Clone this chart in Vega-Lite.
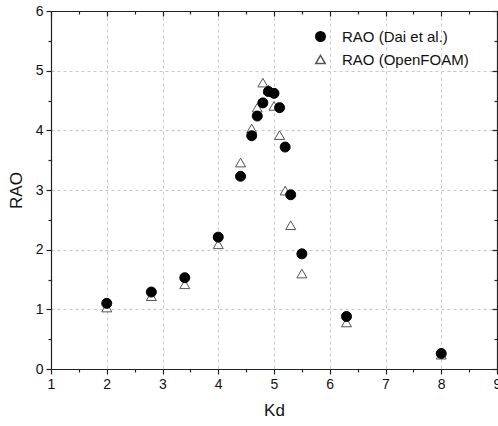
{
  "$schema": "https://vega.github.io/schema/vega-lite/v6.json",
  "width": 446,
  "height": 358,
  "autosize": {"type": "none"},
  "padding": {"left": 51, "top": 11, "right": 1, "bottom": 57},
  "background": "white",
  "config": {
    "view": {"stroke": null},
    "font": "Liberation Sans",
    "axis": {
      "domainColor": "#222",
      "domainWidth": 1.2,
      "tickColor": "#222",
      "tickWidth": 1.2,
      "labelFont": "Liberation Sans",
      "labelFontSize": 14,
      "labelColor": "#111",
      "titleFont": "Liberation Sans",
      "titleFontSize": 17,
      "titleFontWeight": "normal",
      "titleColor": "#111",
      "gridColor": "#c8c8c8",
      "gridDash": [3, 3],
      "gridWidth": 1
    }
  },
  "data": {
    "values": [
      {"Kd": 2.0, "RAO": 1.03, "series": "RAO (OpenFOAM)"},
      {"Kd": 2.8, "RAO": 1.22, "series": "RAO (OpenFOAM)"},
      {"Kd": 3.4, "RAO": 1.42, "series": "RAO (OpenFOAM)"},
      {"Kd": 4.0, "RAO": 2.09, "series": "RAO (OpenFOAM)"},
      {"Kd": 4.4, "RAO": 3.46, "series": "RAO (OpenFOAM)"},
      {"Kd": 4.6, "RAO": 4.03, "series": "RAO (OpenFOAM)"},
      {"Kd": 4.7, "RAO": 4.38, "series": "RAO (OpenFOAM)"},
      {"Kd": 4.8, "RAO": 4.80, "series": "RAO (OpenFOAM)"},
      {"Kd": 4.9, "RAO": 4.68, "series": "RAO (OpenFOAM)"},
      {"Kd": 5.0, "RAO": 4.41, "series": "RAO (OpenFOAM)"},
      {"Kd": 5.1, "RAO": 3.92, "series": "RAO (OpenFOAM)"},
      {"Kd": 5.2, "RAO": 2.99, "series": "RAO (OpenFOAM)"},
      {"Kd": 5.3, "RAO": 2.41, "series": "RAO (OpenFOAM)"},
      {"Kd": 5.5, "RAO": 1.60, "series": "RAO (OpenFOAM)"},
      {"Kd": 6.3, "RAO": 0.78, "series": "RAO (OpenFOAM)"},
      {"Kd": 8.0, "RAO": 0.24, "series": "RAO (OpenFOAM)"},
      {"Kd": 2.0, "RAO": 1.10, "series": "RAO (Dai et al.)"},
      {"Kd": 2.8, "RAO": 1.29, "series": "RAO (Dai et al.)"},
      {"Kd": 3.4, "RAO": 1.53, "series": "RAO (Dai et al.)"},
      {"Kd": 4.0, "RAO": 2.21, "series": "RAO (Dai et al.)"},
      {"Kd": 4.4, "RAO": 3.23, "series": "RAO (Dai et al.)"},
      {"Kd": 4.6, "RAO": 3.91, "series": "RAO (Dai et al.)"},
      {"Kd": 4.7, "RAO": 4.24, "series": "RAO (Dai et al.)"},
      {"Kd": 4.8, "RAO": 4.46, "series": "RAO (Dai et al.)"},
      {"Kd": 4.9, "RAO": 4.65, "series": "RAO (Dai et al.)"},
      {"Kd": 5.0, "RAO": 4.62, "series": "RAO (Dai et al.)"},
      {"Kd": 5.1, "RAO": 4.38, "series": "RAO (Dai et al.)"},
      {"Kd": 5.2, "RAO": 3.72, "series": "RAO (Dai et al.)"},
      {"Kd": 5.3, "RAO": 2.92, "series": "RAO (Dai et al.)"},
      {"Kd": 5.5, "RAO": 1.93, "series": "RAO (Dai et al.)"},
      {"Kd": 6.3, "RAO": 0.88, "series": "RAO (Dai et al.)"},
      {"Kd": 8.0, "RAO": 0.26, "series": "RAO (Dai et al.)"}
    ]
  },
  "layer": [
    {
      "mark": {"type": "point", "filled": false, "size": 100, "strokeWidth": 1, "opacity": 1},
      "encoding": {
        "x": {
          "field": "Kd", "type": "quantitative",
          "scale": {"domain": [1, 9], "nice": false, "zero": false},
          "axis": {
            "orient": "bottom", "title": "Kd",
            "values": [1, 1.5, 2, 2.5, 3, 3.5, 4, 4.5, 5, 5.5, 6, 6.5, 7, 7.5, 8, 8.5, 9],
            "labelExpr": "datum.value % 1 === 0 ? format(datum.value, 'd') : ''",
            "tickSize": {"condition": {"test": "datum.value % 1 === 0", "value": 5}, "value": 3},
            "grid": true,
            "gridOpacity": {"condition": {"test": "datum.value % 1 === 0", "value": 1}, "value": 0},
            "labelPadding": 3,
            "labelFlush": false,
            "labelOverlap": false,
            "titlePadding": 11
          }
        },
        "y": {
          "field": "RAO", "type": "quantitative",
          "scale": {"domain": [0, 6], "nice": false},
          "axis": {
            "orient": "left", "title": "RAO",
            "values": [0, 0.5, 1, 1.5, 2, 2.5, 3, 3.5, 4, 4.5, 5, 5.5, 6],
            "labelExpr": "datum.value % 1 === 0 ? format(datum.value, 'd') : ''",
            "tickSize": {"condition": {"test": "datum.value % 1 === 0", "value": 5}, "value": 3},
            "grid": true,
            "gridOpacity": {"condition": {"test": "datum.value % 1 === 0", "value": 1}, "value": 0},
            "labelPadding": 3,
            "labelFlush": false,
            "labelOverlap": false,
            "titlePadding": 10
          }
        },
        "shape": {
          "field": "series", "type": "nominal",
          "scale": {"domain": ["RAO (Dai et al.)", "RAO (OpenFOAM)"], "range": ["circle", "triangle-up"]},
          "legend": {
            "orient": "none", "legendX": 262, "legendY": 18, "title": null,
            "labelFontSize": 15, "labelFont": "Liberation Sans", "labelColor": "#111",
            "symbolSize": 90, "labelOffset": 14, "rowPadding": 7, "padding": 0
          }
        },
        "fill": {
          "field": "series", "type": "nominal",
          "scale": {"domain": ["RAO (Dai et al.)", "RAO (OpenFOAM)"], "range": ["#000000", "#ffffff"]},
          "legend": {
            "orient": "none", "legendX": 262, "legendY": 18, "title": null,
            "labelFontSize": 15, "labelFont": "Liberation Sans", "labelColor": "#111",
            "symbolSize": 90, "labelOffset": 14, "rowPadding": 7, "padding": 0
          }
        },
        "stroke": {
          "field": "series", "type": "nominal",
          "scale": {"domain": ["RAO (Dai et al.)", "RAO (OpenFOAM)"], "range": ["#000000", "#555555"]},
          "legend": {
            "orient": "none", "legendX": 262, "legendY": 18, "title": null,
            "labelFontSize": 15, "labelFont": "Liberation Sans", "labelColor": "#111",
            "symbolSize": 90, "labelOffset": 14, "rowPadding": 7, "padding": 0
          }
        }
      }
    },
    {
      "mark": {"type": "point", "opacity": 0},
      "encoding": {
        "x": {
          "field": "Kd", "type": "quantitative",
          "axis": {
            "orient": "top", "title": null, "labels": false, "grid": false,
            "values": [1, 1.5, 2, 2.5, 3, 3.5, 4, 4.5, 5, 5.5, 6, 6.5, 7, 7.5, 8, 8.5, 9],
            "tickSize": {"condition": {"test": "datum.value % 1 === 0", "value": -5}, "value": -3}
          }
        },
        "y": {
          "field": "RAO", "type": "quantitative",
          "axis": {
            "orient": "right", "title": null, "labels": false, "grid": false,
            "values": [0, 0.5, 1, 1.5, 2, 2.5, 3, 3.5, 4, 4.5, 5, 5.5, 6],
            "tickSize": {"condition": {"test": "datum.value % 1 === 0", "value": -5}, "value": -3}
          }
        }
      }
    }
  ],
  "resolve": {"axis": {"x": "independent", "y": "independent"}}
}
